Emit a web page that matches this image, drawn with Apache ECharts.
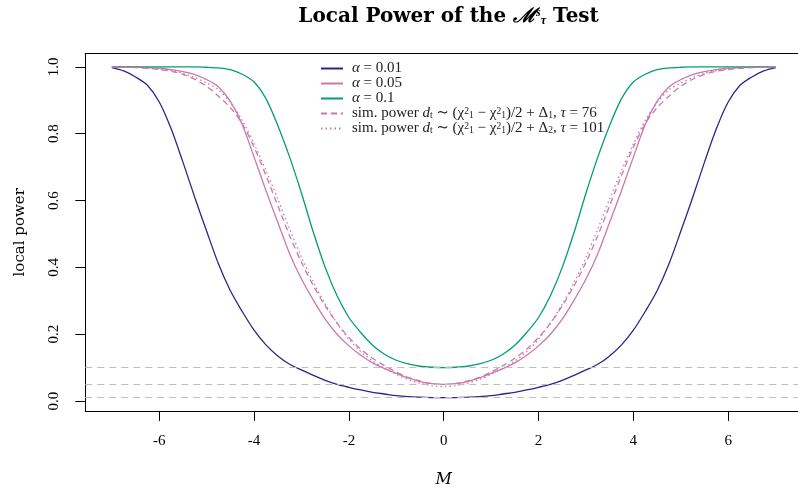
<!DOCTYPE html>
<html>
<head>
<meta charset="utf-8">
<script src="https://cdn.jsdelivr.net/npm/echarts@6/dist/echarts.min.js"></script>
<style>
html,body{margin:0;padding:0;background:#fff;overflow:hidden;}
#chart{width:798px;height:488px;}
</style>
</head>
<body>
<div id="chart"></div>
<script>
// ---- data ----
const M = [-7,-6.75,-6.5,-6.25,-6,-5.75,-5.5,-5.25,-5,-4.75,-4.5,-4.25,-4,-3.75,-3.5,-3.25,-3,-2.75,-2.5,-2.25,-2,-1.75,-1.5,-1.25,-1,-0.75,-0.5,-0.25,0,0.25,0.5,0.75,1,1.25,1.5,1.75,2,2.25,2.5,2.75,3,3.25,3.5,3.75,4,4.25,4.5,4.75,5,5.25,5.5,5.75,6,6.25,6.5,6.75,7];
const powerA001 = [0.998,0.988,0.97,0.945,0.895,0.815,0.715,0.609,0.508,0.41,0.33,0.268,0.212,0.168,0.135,0.11,0.093,0.077,0.062,0.05,0.041,0.033,0.026,0.021,0.016,0.013,0.0115,0.0104,0.01,0.0104,0.0115,0.013,0.016,0.021,0.026,0.033,0.041,0.05,0.062,0.077,0.093,0.11,0.135,0.168,0.212,0.268,0.33,0.41,0.508,0.609,0.715,0.815,0.895,0.945,0.97,0.988,0.998];
const powerA005 = [1.0,1.0,0.999,0.998,0.996,0.992,0.986,0.977,0.962,0.94,0.897,0.828,0.73,0.63,0.535,0.441,0.365,0.302,0.245,0.2,0.165,0.137,0.114,0.097,0.083,0.069,0.058,0.052,0.05,0.052,0.058,0.069,0.083,0.097,0.114,0.137,0.165,0.2,0.245,0.302,0.365,0.441,0.535,0.63,0.73,0.828,0.897,0.94,0.962,0.977,0.986,0.992,0.996,0.998,0.999,1.0,1.0];
const powerA010 = [1,1,1,1,1,1,1,1,0.999,0.997,0.992,0.978,0.955,0.905,0.825,0.73,0.622,0.505,0.40,0.315,0.25,0.205,0.167,0.14,0.122,0.111,0.104,0.101,0.1,0.101,0.104,0.111,0.122,0.14,0.167,0.205,0.25,0.315,0.40,0.505,0.622,0.73,0.825,0.905,0.955,0.978,0.992,0.997,0.999,1,1,1,1,1,1,1,1];
const simPower1 = [1.0,0.999,0.998,0.996,0.992,0.987,0.978,0.963,0.942,0.912,0.878,0.83,0.76,0.675,0.585,0.495,0.415,0.345,0.285,0.233,0.19,0.155,0.128,0.106,0.087,0.071,0.06,0.052,0.049,0.052,0.06,0.071,0.087,0.106,0.128,0.155,0.19,0.233,0.285,0.345,0.415,0.495,0.585,0.675,0.76,0.83,0.878,0.912,0.942,0.963,0.978,0.987,0.992,0.996,0.998,0.999,1.0];
const simPower2 = [1.0,1.0,0.999,0.997,0.994,0.989,0.981,0.968,0.952,0.932,0.893,0.84,0.77,0.69,0.605,0.515,0.43,0.355,0.29,0.233,0.185,0.148,0.12,0.098,0.08,0.064,0.053,0.046,0.043,0.046,0.053,0.064,0.08,0.098,0.12,0.148,0.185,0.233,0.29,0.355,0.43,0.515,0.605,0.69,0.77,0.84,0.893,0.932,0.952,0.968,0.981,0.989,0.994,0.997,0.999,1.0,1.0];
const alphaLevels = [0.01,0.05,0.1];
const xTicks = [-6,-4,-2,0,2,4,6];
const yTicks = [0,0.2,0.4,0.6,0.8,1.0];
const seriesNames = ['α = 0.01','α = 0.05','α = 0.1','sim1','sim2'];
const legendText = {
  'α = 0.01': '{i|α} = 0.01',
  'α = 0.05': '{i|α} = 0.05',
  'α = 0.1': '{i|α} = 0.1',
  'sim1': 'sim. power {i|d}{sb|t} ∼ (χ{sp|2}{sb|1} − χ{sp|2}{sb|1})/2 + Δ{sb|1}, {i|τ} = 76',
  'sim2': 'sim. power {i|d}{sb|t} ∼ (χ{sp|2}{sb|1} − χ{sp|2}{sb|1})/2 + Δ{sb|2}, {i|τ} = 101'
};

const FONT = 'Liberation Serif, DejaVu Serif, serif';
const WFONT = 'DejaVu Serif, Liberation Serif, serif';
const BLUE = '#332288', PINK = '#CC79A7', GREEN = '#009E73';
// plot box runs past the right edge of the picture (as in the reference)
const X_MIN = -7.56, X_MAX = 8.47;
const pair = arr => M.map((m,i)=>[m, arr[i]]);

const chart = echarts.init(document.getElementById('chart'), null, {renderer:'canvas'});
const lineBase = {type:'line', showSymbol:false, symbol:'none', smooth:0.3, animation:false, silent:true};

chart.setOption({
  animation:false,
  title:{
    text:'{b|Local Power of the }{m|ℳ}{sp|s}{sb|τ}{b| Test}',
    left:443.6, top:2, textAlign:'center',
    textStyle:{
      rich:{
        b:{fontFamily:WFONT, fontWeight:'bold', fontSize:20, color:'#000'},
        m:{fontFamily:WFONT, fontStyle:'italic', fontSize:20, color:'#000'},
        sp:{fontFamily:FONT, fontStyle:'italic', fontSize:12, color:'#000', verticalAlign:'top'},
        sb:{fontFamily:FONT, fontStyle:'italic', fontSize:12, color:'#000', verticalAlign:'bottom'}
      }
    }
  },
  legend:{
    orient:'vertical', left:320, top:61, padding:0,
    itemWidth:22, itemHeight:14, itemGap:0,
    data:seriesNames,
    formatter: n => legendText[n],
    itemStyle:{opacity:0},
    textStyle:{
      fontFamily:FONT, fontSize:15, color:'#222', padding:[0,0,0,4], lineHeight:14,
      rich:{
        i:{fontFamily:FONT, fontStyle:'italic', fontSize:15, color:'#222'},
        sp:{fontFamily:FONT, fontSize:9.5, color:'#222', verticalAlign:'top'},
        sb:{fontFamily:FONT, fontSize:9.5, color:'#222', verticalAlign:'bottom'}
      }
    }
  },
  grid:{left:85.3, top:53.7, width:760, height:357.2, outerBoundsMode:'none', show:false},
  xAxis:[{
    type:'value', min:X_MIN, max:X_MAX,
    name:'M', nameLocation:'middle', nameGap:61,
    nameTextStyle:{fontFamily:WFONT, fontStyle:'italic', fontSize:16, color:'#000', padding:[0,43,0,0]},
    axisLine:{show:true, onZero:false, lineStyle:{color:'#000', width:1}},
    axisTick:{show:true, length:10, customValues:xTicks, lineStyle:{color:'#000'}},
    axisLabel:{customValues:xTicks, margin:23, fontFamily:FONT, fontSize:15, color:'#000', formatter:v=>String(v)},
    splitLine:{show:false}
  },{
    type:'value', min:X_MIN, max:X_MAX, position:'top',
    axisLine:{show:true, onZero:false, lineStyle:{color:'#000', width:1}},
    axisTick:{show:false}, axisLabel:{show:false}, splitLine:{show:false}
  }],
  yAxis:{
    type:'value', min:-0.0296, max:1.0396,
    name:'local power', nameLocation:'middle', nameGap:58,
    nameTextStyle:{fontFamily:WFONT, fontSize:15, color:'#000'},
    axisLine:{show:true, onZero:false, lineStyle:{color:'#000', width:1}},
    axisTick:{show:true, length:10, customValues:yTicks, lineStyle:{color:'#000'}},
    axisLabel:{customValues:yTicks, rotate:90, margin:24, fontFamily:FONT, fontSize:15, color:'#000', formatter:v=>v.toFixed(1)},
    splitLine:{show:false}
  },
  series:[
    Object.assign({}, lineBase, {name:seriesNames[0], data:pair(powerA001), z:3,
      lineStyle:{color:BLUE, width:1.3}, itemStyle:{color:BLUE},
      markLine:{silent:true, symbol:'none', label:{show:false}, animation:false,
        lineStyle:{color:'#BEBEBE', type:[7,5], width:1},
        data:alphaLevels.map(a=>({yAxis:a}))}}),
    Object.assign({}, lineBase, {name:seriesNames[1], data:pair(powerA005), z:3,
      lineStyle:{color:PINK, width:1.3}, itemStyle:{color:PINK}}),
    Object.assign({}, lineBase, {name:seriesNames[2], data:pair(powerA010), z:3,
      lineStyle:{color:GREEN, width:1.3}, itemStyle:{color:GREEN}}),
    Object.assign({}, lineBase, {name:seriesNames[3], data:pair(simPower1), z:3,
      lineStyle:{color:PINK, width:1.3, type:[6,4]}, itemStyle:{color:PINK}}),
    Object.assign({}, lineBase, {name:seriesNames[4], data:pair(simPower2), z:3,
      lineStyle:{color:PINK, width:1.3, type:[1.5,3]}, itemStyle:{color:PINK}})
  ]
});
</script>
</body>
</html>
